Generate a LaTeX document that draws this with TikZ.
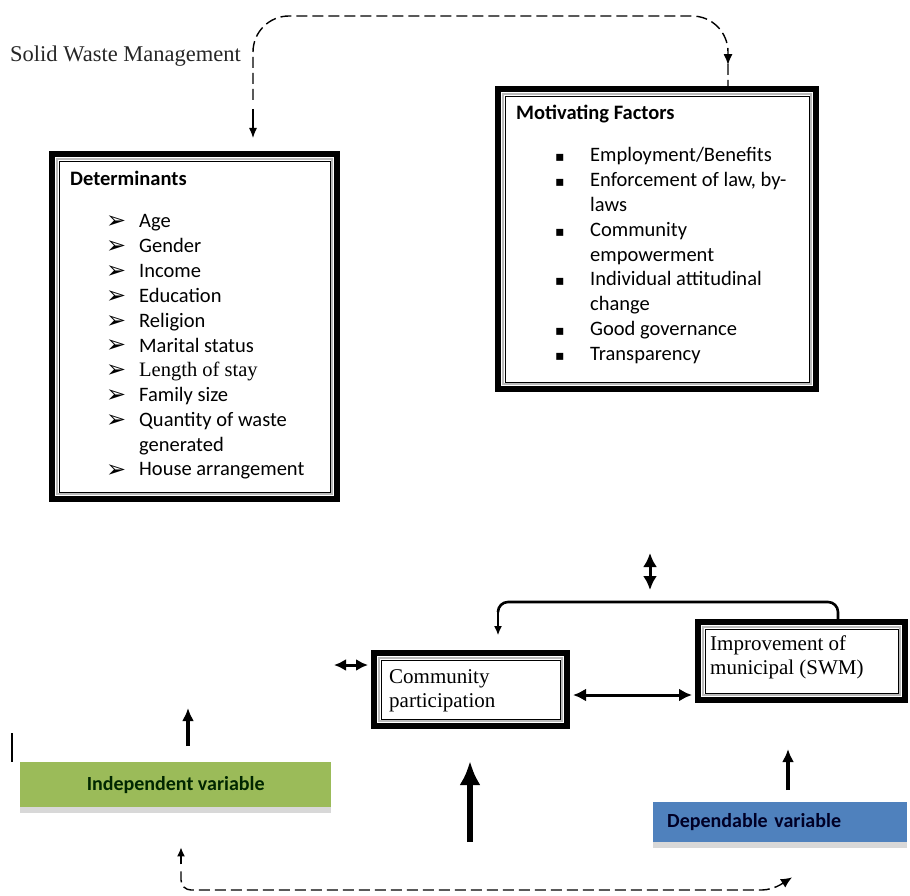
\documentclass[tikz,border=0pt]{standalone}
\usepackage{fontspec}
\setmainfont{Liberation Serif}
\newfontfamily\calib{Carlito}
\newfontfamily\symb{DejaVu Sans}
\usetikzlibrary{calc,arrows.meta,shadows,decorations.markings}
\tikzset{>={Latex}}
\definecolor{indgreen}{HTML}{9BBB59}
\definecolor{depblue}{HTML}{4F81BD}
\tikzset{
  frame/.style = {draw, line width=6pt, anchor=north west, inner sep=0pt,
    path picture={
      \draw[gray!55, line width=1.6pt] ([shift={(5.2pt,-5.2pt)}]path picture bounding box.north west) rectangle ([shift={(-5.2pt,5.2pt)}]path picture bounding box.south east);
      \draw[line width=0.8pt] ([shift={(7pt,-7pt)}]path picture bounding box.north west) rectangle ([shift={(-7pt,7pt)}]path picture bounding box.south east);
    }},
  heading/.style = {anchor=base west, inner sep=0pt, font=\calib\bfseries\fontsize{20.5}{24.8}\selectfont},
  listing/.style = {anchor=base west, inner sep=0pt, font=\calib\fontsize{20.5}{24.8}\selectfont},
  boxtext/.style = {anchor=base west, inner sep=0pt, font=\fontsize{21}{24}\selectfont},
  varbox/.style = {anchor=north west, inner sep=0pt, font=\calib\bfseries\fontsize{20}{24}\selectfont,
    drop shadow={shadow xshift=0pt, shadow yshift=-6pt, fill=black!30, opacity=0.5}},
  dashline/.style = {dash pattern=on 11pt off 5pt, line width=1.4pt},
  bothtips/.style = {{Latex[length=#1,width=#1]}-{Latex[length=#1,width=#1]}, line width=3pt},
}
\newcommand{\arw}{\makebox[33pt][l]{\raisebox{-1pt}{\symb\fontsize{24}{24}\selectfont ➢}}}
\newcommand{\sqb}{\makebox[35pt][l]{\symb\fontsize{14}{14}\selectfont ▪}}

\begin{document}
\begin{tikzpicture}[x=1pt, y=-1pt]
  \useasboundingbox (0,0) rectangle (910,896);

  \node[anchor=base west, inner sep=0pt, font=\fontsize{22.5}{26}\selectfont, text=black!85] (swm) at (10,62) {Solid Waste Management};

  % the two framed lists
  \node[frame, minimum width=285pt, minimum height=345pt] (det) at (49,151) {};
  \node[heading] (dettitle) at ($(det.north west)+(21,35)$) {Determinants};
  \node[listing] (detlist) at ($(det.north west)+(57,77)$) {\begin{tabular}[t]{@{}l@{}}
    \arw Age\\
    \arw Gender\\
    \arw Income\\
    \arw Education\\
    \arw Religion\\
    \arw Marital status\\
    \arw {\rmfamily Length of stay}\\
    \arw Family size\\
    \arw Quantity of waste\\
    \hspace*{33pt}generated\\
    \arw House arrangement
  \end{tabular}};

  \node[frame, minimum width=318pt, minimum height=300pt] (mot) at (495,86) {};
  \node[heading] (mottitle) at ($(mot.north west)+(21,34)$) {Motivating Factors};
  \node[listing] (motlist) at ($(mot.north west)+(60,76)$) {\begin{tabular}[t]{@{}l@{}}
    \sqb Employment/Benefits\\
    \sqb Enforcement of law, by-\\
    \hspace*{35pt}laws\\
    \sqb Community\\
    \hspace*{35pt}empowerment\\
    \sqb Individual attitudinal\\
    \hspace*{35pt}change\\
    \sqb Good governance\\
    \sqb Transparency
  \end{tabular}};

  % dashed loop on top
  \draw[-{Latex[length=10pt,width=8pt]}, line width=1.2pt] ($(253,0 |- det.north)+(0,-42)$) -- ($(253,0 |- det.north)+(0,-13)$);
  \draw[dashline, rounded corners=36pt,
        postaction={decorate, decoration={markings, mark=at position 0.965 with {\arrow{Latex[length=11pt,width=9pt]}}}}]
    ($(253,0 |- det.north)+(0,-51)$) -- (253,16) -- (728,16) -- (728,0 |- mot.north);

  % participation and improvement
  \node[frame, minimum width=193pt, minimum height=73pt] (comm) at (371,650) {};
  \node[boxtext] (commtext) at ($(comm.north west)+(18,33)$) {\begin{tabular}[t]{@{}l@{}}Community\\participation\end{tabular}};
  \node[frame, minimum width=207pt, minimum height=78pt] (imp) at (695,619) {};
  \node[boxtext] (imptext) at ($(imp.north west)+(15,31)$) {\begin{tabular}[t]{@{}l@{}}Improvement of\\municipal (SWM)\end{tabular}};

  \coordinate (updown1) at (650,553);
  \coordinate (updown2) at (650,590);
  \draw[bothtips=14pt] (updown1) -- (updown2);
  \draw[line width=2.6pt, rounded corners=10pt] (838,0 |- imp.north) -- (838,602) -- (498,602) -- (498,612);
  \draw[-{Latex[length=9pt,width=8pt]}, line width=1.2pt] (498,610) -- ($(498,0 |- comm.north)+(0,-15)$);
  \draw[bothtips=13pt, shorten <=3pt, shorten >=3pt] (comm.east |- 0,695) -- (imp.west |- 0,695);
  \coordinate (cpleft) at (334,665);
  \draw[bothtips=12pt, shorten >=3pt] (cpleft) -- (comm.west |- 0,665);

  % variables
  \draw[line width=2.5pt] (12,733) -- (12,762);
  \node[varbox, fill=indgreen, minimum width=311pt, minimum height=45pt, text=black!85!green] (indep) at (20,762) {Independent variable};
  \node[varbox, fill=depblue, minimum width=254pt, minimum height=40pt, text width=226pt, align=left, inner xsep=14pt, text=blue!15!black] (dep) at (653,802) {Dependable variable};

  \draw[-{Latex[length=13pt,width=12pt]}, line width=3.2pt] ($(188,0 |- indep.north)+(0,-16)$) -- ++(0,-38);
  \draw[-{Latex[length=24pt,width=21pt]}, line width=6.5pt] (470,842) -- (470,761);
  \draw[-{Latex[length=13pt,width=12pt]}, line width=3.2pt] ($(788,0 |- dep.north)+(0,-12)$) -- ++(0,-41);

  % dashed loop at the bottom
  \draw[-{Latex[length=9pt,width=8pt]}, line width=1.4pt] ($(181,0 |- indep.south)+(0,57)$) -- ($(181,0 |- indep.south)+(0,40)$);
  \draw[dashline, rounded corners=10pt, -{Latex[length=11pt,width=10pt]}] ($(181,0 |- indep.south)+(0,64)$) -- (181,890) -- (772,890) -- ($(792,0 |- dep.south)+(0,35)$);
\end{tikzpicture}
\end{document}
